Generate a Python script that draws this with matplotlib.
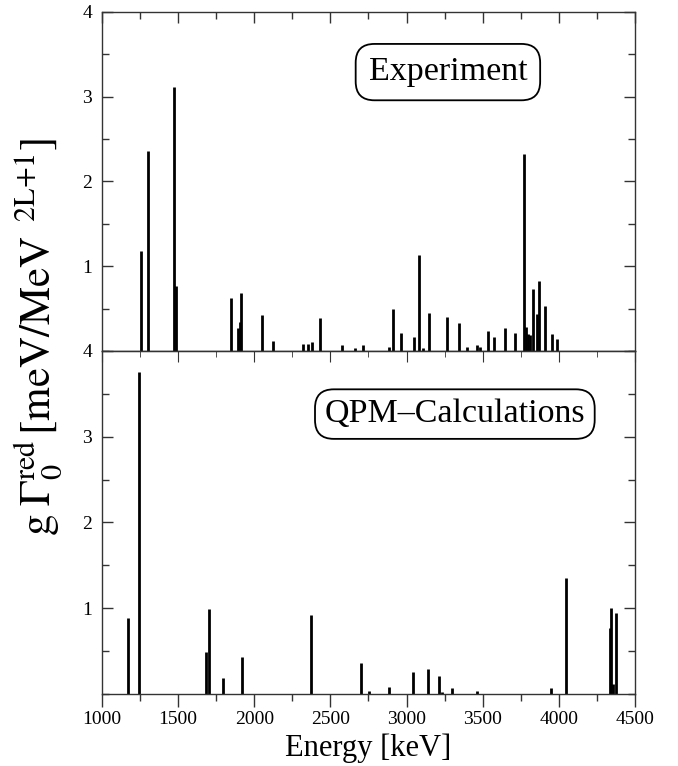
import matplotlib.pyplot as plt
import numpy as np

plt.rcParams['font.family'] = ['Liberation Serif', 'DejaVu Serif']
plt.rcParams['mathtext.fontset'] = 'stix'

# experiment: energies [keV] and reduced widths
exp_energy = [1257, 1300, 1471, 1489, 1844, 1892, 1904, 1914, 2050, 2125,
              2318, 2351, 2382, 2434, 2579, 2660, 2717, 2882, 2914, 2963,
              3046, 3083, 3105, 3149, 3263, 3342, 3397, 3463, 3485, 3533,
              3572, 3647, 3713, 3770, 3786, 3796, 3813, 3833, 3855, 3870,
              3910, 3952, 3991]
exp_width = [1.18, 2.36, 3.11, 0.77, 0.63, 0.27, 0.34, 0.68, 0.42, 0.12,
             0.08, 0.08, 0.10, 0.39, 0.07, 0.04, 0.07, 0.05, 0.50, 0.21,
             0.17, 1.13, 0.04, 0.45, 0.40, 0.33, 0.05, 0.07, 0.05, 0.24,
             0.17, 0.27, 0.21, 2.32, 0.28, 0.20, 0.19, 0.73, 0.44, 0.83,
             0.53, 0.20, 0.14]

# QPM calculation
qpm_energy = [1173, 1245, 1685, 1700, 1797, 1922, 2370, 2704, 2752, 2886,
              3044, 3138, 3215, 3230, 3300, 3460, 3950, 4048, 4334, 4345,
              4356, 4375]
qpm_width = [0.89, 3.75, 0.49, 0.99, 0.19, 0.43, 0.92, 0.36, 0.03, 0.08,
             0.26, 0.29, 0.21, 0.02, 0.07, 0.035, 0.07, 1.35, 0.77, 1.00,
             0.12, 0.95]

fig = plt.figure(figsize=(6.78, 7.66), dpi=100)
ax1 = fig.add_axes([0.1504, 0.5418, 0.7862, 0.4429])
ax2 = fig.add_axes([0.1504, 0.0940, 0.7862, 0.4478])

for ax in (ax1, ax2):
    ax.set_xlim(1000, 4500)
    ax.set_ylim(0, 4)
    ax.set_xticks(np.arange(1000, 4501, 500))
    ax.set_xticks(np.arange(1000, 4501, 250), minor=True)
    ax.set_yticks([1, 2, 3, 4])
    ax.set_yticks(np.arange(0, 4.01, 0.5), minor=True)
    for s in ax.spines.values():
        s.set_linewidth(1.0)
        s.set_color('#333333')
    ax.tick_params(which='both', labelsize=14, color='#333333')
    ax.tick_params(axis='y', which='both', direction='in', left=True, right=True, pad=7)
    ax.tick_params(which='major', length=8, width=1.0)
    ax.tick_params(which='minor', length=5, width=1.0)

# top panel: ticks on top, none at bottom
ax1.tick_params(axis='x', which='both', direction='in', top=True, bottom=False,
                labelbottom=False)
ax1.vlines(exp_energy, 0, exp_width, color='black', linewidth=2.0)
ax1.text(0.649, 0.822, 'Experiment', transform=ax1.transAxes, fontsize=24.5,
         ha='center', va='center',
         bbox=dict(boxstyle='round,pad=0.38,rounding_size=0.55', fc='white',
                   ec='black', lw=1.3))

# bottom panel
ax2.tick_params(axis='x', which='both', direction='out', top=False, bottom=True, pad=3)
ax2.tick_params(axis='x', which='major', length=9)
ax2.tick_params(axis='x', which='minor', length=5)
sec = ax2.secondary_xaxis('top')
sec.set_xticks(np.arange(1000, 4501, 500))
sec.set_xticks(np.arange(1000, 4501, 250), minor=True)
sec.tick_params(which='both', direction='in', labeltop=False, color='#333333')
sec.tick_params(which='major', length=8)
sec.tick_params(which='minor', length=4)
ax2.vlines(qpm_energy, 0, qpm_width, color='black', linewidth=2.0)
ax2.text(0.662, 0.816, 'QPM\u2013Calculations', transform=ax2.transAxes, fontsize=24.5,
         ha='center', va='center',
         bbox=dict(boxstyle='round,pad=0.28,rounding_size=0.55', fc='white',
                   ec='black', lw=1.3))
ax2.set_xlabel('Energy [keV]', fontsize=22, labelpad=4)

fig.text(0.056, 0.56,
         r'$\mathrm{g}\;\Gamma_0^{\mathrm{red}}\,[\mathrm{meV/MeV}^{\ \ \mathrm{2L}{+}\mathrm{1}}]$',
         rotation=90, ha='center', va='center', fontsize=31)

fig.savefig('out.png', dpi=100)
